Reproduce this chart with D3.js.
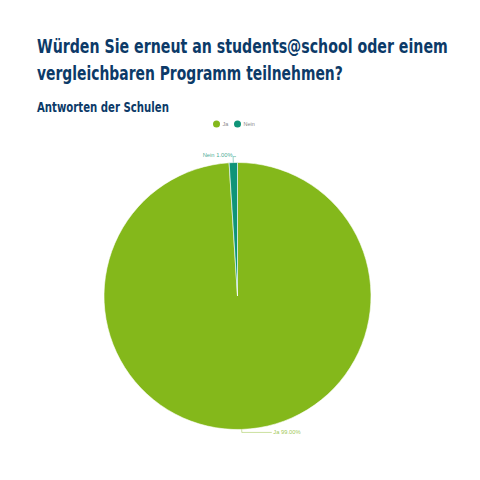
<!DOCTYPE html>
<html>
<head>
<meta charset="utf-8">
<script src="https://cdn.jsdelivr.net/npm/d3@7"></script>
<style>
  body { margin: 0; background: #fff; }
  svg { display: block; }
</style>
</head>
<body>
<svg id="chart"></svg>
<script>
////////////
// DATA
////////////
const categories = ["Ja", "Nein"];
const shares = [99, 1];
const labels = ["Ja 99.00%", "Nein 1.00%"];
const colors = ["#84b81b", "#0f9478"];

const width = 480, height = 480;
const titleColor = "#0c3a68";
const condensed = "'DejaVu Sans Condensed', 'Liberation Sans Narrow', sans-serif";

const svg = d3.select("#chart").attr("width", width).attr("height", height);

// title + subtitle, squeezed horizontally to the widths of the condensed original
const headLines = [
    { text: "Würden Sie erneut an students@school oder einem", y: 53, len: 411, size: 19.5 },
    { text: "vergleichbaren Programm teilnehmen?", y: 80, len: 306, size: 19.5 },
    { text: "Antworten der Schulen", y: 112, len: 132, size: 14.5 }
];
headLines.forEach(line => {
    const t = svg.append("text")
        .attr("x", 0)
        .attr("y", 0)
        .attr("font-family", condensed)
        .attr("font-weight", "bold")
        .attr("font-size", line.size)
        .attr("fill", titleColor)
        .text(line.text);
    const natural = t.node().getComputedTextLength();
    t.attr("transform", `translate(37,${line.y}) scale(${line.len / natural},1)`);
});

// legend
const legendX = d3.scalePoint().domain(categories).range([216.5, 237.5]);
const legend = svg.append("g").selectAll("g")
    .data(categories)
    .join("g")
    .attr("transform", d => `translate(${legendX(d)},124)`);
legend.append("circle")
    .attr("r", 3.5)
    .attr("fill", (d, i) => colors[i]);
legend.append("text")
    .attr("x", 6)
    .attr("dy", "0.35em")
    .attr("font-family", "'Liberation Sans', sans-serif")
    .attr("font-size", 5.5)
    .attr("fill", "#888")
    .text(d => d);

// pie
const cx = 237.5, cy = 296, r = 133.5;
const pie = d3.pie().sort(null).value(d => d);
const arcs = pie(shares);
const arc = d3.arc().innerRadius(0).outerRadius(r);

const g = svg.append("g").attr("transform", `translate(${cx},${cy})`);
g.selectAll("path")
    .data(arcs)
    .join("path")
    .attr("d", arc)
    .attr("fill", (d, i) => colors[i])
    .attr("stroke", "#fff")
    .attr("stroke-width", 0.6);

// labels with leader lines
arcs.forEach((d, i) => {
    const a = (d.startAngle + d.endAngle) / 2;
    const right = Math.sin(a) >= 0;
    const reach = right ? 3 : 6;
    const outer = d3.arc().innerRadius(r + reach).outerRadius(r + reach);
    const p0 = [Math.sin(a) * r, -Math.cos(a) * r];
    const p1 = outer.centroid(d);
    const p2 = [p1[0] + (right ? 30 : 3), p1[1]];
    g.append("polyline")
        .attr("points", [p0, p1, p2].map(p => p.join(",")).join(" "))
        .attr("fill", "none")
        .attr("stroke", colors[i])
        .attr("stroke-opacity", 0.7)
        .attr("stroke-width", 0.6);
    g.append("text")
        .attr("x", right ? p2[0] + 1.5 : p1[0] - 0.5)
        .attr("y", p2[1] - (right ? 0 : 1.5))
        .attr("dy", "0.35em")
        .attr("text-anchor", right ? "start" : "end")
        .attr("font-family", "'Liberation Sans', sans-serif")
        .attr("font-size", 5.8)
        .attr("fill", colors[i])
        .attr("fill-opacity", 0.8)
        .text(labels[i]);
});
</script>
</body>
</html>
